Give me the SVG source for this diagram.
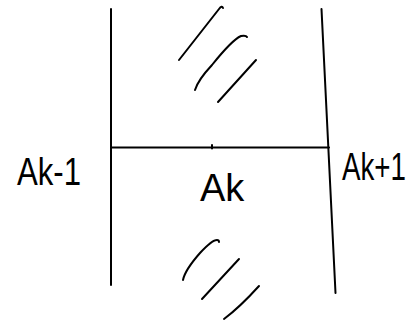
<svg xmlns="http://www.w3.org/2000/svg" width="414" height="324" viewBox="0 0 414 324">
<style>
.s{fill:none;stroke:#000;stroke-width:2;stroke-linecap:round;stroke-linejoin:round}
.t{font-family:"Liberation Sans",Arial,sans-serif;font-size:38px;fill:#000}
</style>
<rect width="414" height="324" fill="#fff"/>
<g id="connectors">
<path class="s" d="M111 9 L111 285"/>
<path class="s" d="M321.5 9 L335.5 293"/>
<path class="s" d="M111 147.5 L329 147.5"/>
<path class="s" d="M212 145 L212 148.5" stroke-width="3"/>
</g>
<g id="hatch-top">
<path class="s" d="M179 60 L219 9 Q222 5 223 8"/>
<path class="s" d="M195 90 Q198 80 212 65 Q232 40 241 36 Q246 35 247 37"/>
<path class="s" d="M218 102 L256 60"/>
</g>
<g id="hatch-bottom">
<path class="s" d="M183 280 Q185 270 200 253 Q212 240 217 240 Q219 240 219 242"/>
<path class="s" d="M202 299 L239 259"/>
<path class="s" d="M224 319 Q240 307 259 286"/>
</g>
<g id="node-ak-1"><text class="t" transform="translate(17,185) scale(0.82,1)">Ak-1</text></g>
<g id="node-ak"><text class="t" x="200" y="201">Ak</text></g>
<g id="node-ak+1"><text class="t" transform="translate(342,180) scale(0.73,1)">Ak+1</text></g>
</svg>
